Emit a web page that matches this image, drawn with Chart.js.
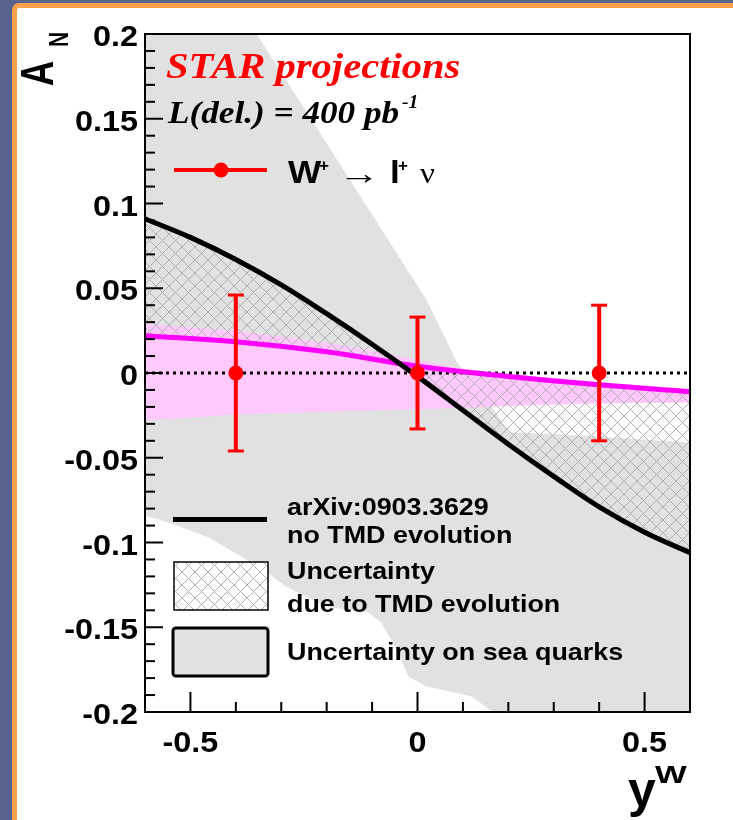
<!DOCTYPE html>
<html>
<head>
<meta charset="utf-8">
<script src="https://cdn.jsdelivr.net/npm/chart.js@4.4.0/dist/chart.umd.min.js"></script>
<style>
  html, body { margin: 0; padding: 0; }
  body { width: 733px; height: 820px; overflow: hidden; background: #57628e; position: relative; }
  #panel {
    position: absolute; left: 12px; top: 3px; width: 760px; height: 860px;
    background: #fff; border-left: 5px solid #f8a14b; border-top: 5px solid #f8a14b;
    border-top-left-radius: 7px;
  }
  #asym { position: absolute; left: 0; top: 0; }
</style>
</head>
<body>
<div id="panel"></div>
<canvas id="asym" width="733" height="820"></canvas>
<script>
// STAR projected W+ single-spin asymmetry, 400 pb^-1
const ptX = [-0.4, 0.0, 0.4];
const ptY = [0, 0, 0];
const ptErr = [0.046, 0.033, 0.040];

// arXiv:0903.3629, no TMD evolution
const blkX = [-0.6, -0.5, -0.4, -0.3, -0.2, -0.1, 0.0, 0.1, 0.2, 0.3, 0.4, 0.5, 0.6];
const blkY = [0.091, 0.080, 0.067, 0.052, 0.035, 0.017, -0.002, -0.022, -0.042, -0.061, -0.079, -0.094, -0.106];

// with TMD evolution
const magX = [-0.6, -0.4, -0.2, 0.0, 0.2, 0.4, 0.6];
const magY = [0.022, 0.0185, 0.0125, 0.004, -0.002, -0.007, -0.011];

// sea-quark spread around the evolved curve
const pinkX = [-0.6, -0.4, -0.2, -0.08, 0.1, 0.2, 0.4, 0.6];
const pinkTop = [0.029, 0.025, 0.018, 0.012, 0.0025, -0.0005, -0.0055, -0.0095];
const pinkBot = [-0.028, -0.0245, -0.0228, -0.022, -0.0205, -0.0195, -0.018, -0.0175];

// sea-quark band of the unevolved curve
const seaUpX = [-0.6, -0.354, 0.02, 0.086, 0.165, 0.2, 0.3, 0.6];
const seaUpY = [0.30, 0.2, 0.043, 0.0067, -0.02, -0.035, -0.036, -0.041];
const seaLoX = [-0.6, -0.54, -0.46, -0.39, -0.33, -0.29, -0.2, -0.11, -0.08, -0.05, -0.02, 0.02, 0.09, 0.12, 0.17, 0.6];
const seaLoY = [-0.084, -0.089, -0.097, -0.108, -0.118, -0.126, -0.138, -0.141, -0.147, -0.161, -0.179, -0.185, -0.189, -0.191, -0.201, -0.26];

const zeroX = [-0.6, 0.6];
const zeroY = [0, 0];

const xTicks = [-0.5, 0, 0.5];
const xLabels = ['-0.5', '0', '0.5'];
const yTicks = [-0.2, -0.15, -0.1, -0.05, 0, 0.05, 0.1, 0.15, 0.2];
const yLabels = ['-0.2', '-0.15', '-0.1', '-0.05', '0', '0.05', '0.1', '0.15', '0.2'];

const xy = (xs, ys) => xs.map((x, i) => ({ x: x, y: ys[i] }));
const none = 'rgba(0,0,0,0)';

function makeHatch() {
  const c = document.createElement('canvas');
  c.width = 13; c.height = 13;
  const g = c.getContext('2d');
  g.strokeStyle = '#b0b0b0';
  g.lineWidth = 1;
  g.beginPath();
  g.moveTo(0, 0); g.lineTo(13, 13);
  g.moveTo(13, 0); g.lineTo(0, 13);
  g.stroke();
  return g.createPattern(c, 'repeat');
}
const hatch = makeHatch();

const SANS = "'Liberation Sans', Arial, Helvetica, sans-serif";
const SERIF = "'Liberation Serif', 'Times New Roman', serif";

function txt(ctx, s, x, y, font, color, sx, align) {
  ctx.save();
  ctx.translate(x, y);
  ctx.scale(sx || 1, 1);
  ctx.font = font;
  ctx.fillStyle = color || '#000';
  ctx.textAlign = align || 'left';
  ctx.textBaseline = 'alphabetic';
  ctx.fillText(s, 0, 0);
  ctx.restore();
}

function seg(ctx, x1, y1, x2, y2) {
  ctx.beginPath(); ctx.moveTo(x1, y1); ctx.lineTo(x2, y2); ctx.stroke();
}

const decor = {
  id: 'decor',
  beforeDatasetDraw(chart, args) {
    if (args.index !== 0) return;
    const ctx = chart.ctx, xs = chart.scales.x, ys = chart.scales.y;
    ctx.save();
    ctx.strokeStyle = '#ff0000';
    ptX.forEach((x, i) => {
      const px = xs.getPixelForValue(x);
      const top = ys.getPixelForValue(ptY[i] + ptErr[i]);
      const bot = ys.getPixelForValue(ptY[i] - ptErr[i]);
      ctx.lineWidth = 4;
      seg(ctx, px, top, px, bot);
      ctx.lineWidth = 3;
      seg(ctx, px - 8, top, px + 8, top);
      seg(ctx, px - 8, bot, px + 8, bot);
    });
    ctx.restore();
  },
  afterDraw(chart) {
    const ctx = chart.ctx, a = chart.chartArea;
    const xs = chart.scales.x, ys = chart.scales.y;
    ctx.save();

    // frame
    ctx.strokeStyle = '#000';
    ctx.lineWidth = 2;
    ctx.strokeRect(a.left, a.top, a.right - a.left, a.bottom - a.top);

    // inward ticks
    ctx.lineWidth = 2;
    for (let k = -20; k <= 20; k++) {
      const py = ys.getPixelForValue(k / 100);
      seg(ctx, a.left, py, a.left + (k % 5 === 0 ? 18 : 10), py);
    }
    for (let k = -6; k <= 6; k++) {
      const px = xs.getPixelForValue(k / 10);
      seg(ctx, px, a.bottom, px, a.bottom - (k % 5 === 0 ? 20 : 10));
    }

    // tick labels
    const tf = 'bold 30px ' + SANS;
    yTicks.forEach((v, i) => txt(ctx, yLabels[i], a.left - 7, ys.getPixelForValue(v) + 12, tf, '#000', 1.08, 'right'));
    xTicks.forEach((v, i) => txt(ctx, xLabels[i], xs.getPixelForValue(v), a.bottom + 40, tf, '#000', 1.08, 'center'));

    // axis titles
    ctx.save();
    ctx.translate(53, 86);
    ctx.rotate(-Math.PI / 2);
    ctx.scale(1, 1.3);
    ctx.font = 'bold 35px ' + SANS;
    ctx.fillStyle = '#000';
    ctx.fillText('A', 0, 0);
    ctx.font = 'bold 21px ' + SANS;
    ctx.fillText('N', 39, 11.5);
    ctx.restore();
    txt(ctx, 'y', 628, 807, 'bold 50px ' + SANS, '#000', 1);
    txt(ctx, 'W', 655, 783, 'bold 24px ' + SANS, '#000', 1.4);

    // header
    txt(ctx, 'STAR projections', 166, 78, 'bold italic 35px ' + SERIF, '#ff0000', 1.16);
    txt(ctx, 'L(del.) = 400 pb', 168, 123, 'bold italic 32px ' + SERIF, '#000', 1.1);
    txt(ctx, '-1', 402, 108, 'bold italic 18px ' + SERIF, '#000', 1.1);

    // data legend
    ctx.strokeStyle = '#ff0000';
    ctx.lineWidth = 4;
    seg(ctx, 174, 170, 267, 170);
    ctx.fillStyle = '#ff0000';
    ctx.beginPath(); ctx.arc(221, 170, 7.5, 0, Math.PI * 2); ctx.fill();
    txt(ctx, 'W', 288, 183, 'bold 32px ' + SANS, '#000', 1.1);
    txt(ctx, '+', 319, 171, 'bold 17px ' + SANS, '#000', 1);
    txt(ctx, '\u2192', 338, 184, '32px ' + SANS, '#000', 1.3);
    txt(ctx, 'l', 390, 183, 'bold 32px ' + SANS, '#000', 1.1);
    txt(ctx, '+', 398, 171, 'bold 17px ' + SANS, '#000', 1);
    txt(ctx, '\u03bd', 420, 183, '30px ' + SERIF, '#000', 1.1);

    // model legend
    const lf = 'bold 24px ' + SANS;
    ctx.strokeStyle = '#000';
    ctx.lineWidth = 5;
    seg(ctx, 173, 519.5, 267, 519.5);
    txt(ctx, 'arXiv:0903.3629', 287, 515, lf, '#000', 1.12);
    txt(ctx, 'no TMD evolution', 287, 543, lf, '#000', 1.12);

    ctx.fillStyle = '#fff';
    ctx.fillRect(174, 562, 94, 48);
    ctx.fillStyle = hatch;
    ctx.fillRect(174, 562, 94, 48);
    ctx.lineWidth = 1.5;
    ctx.strokeRect(174, 562, 94, 48);
    txt(ctx, 'Uncertainty', 287, 579, lf, '#000', 1.12);
    txt(ctx, 'due to TMD evolution', 287, 612, lf, '#000', 1.12);

    ctx.fillStyle = '#e1e1e1';
    ctx.lineWidth = 3;
    ctx.beginPath();
    ctx.roundRect(173, 628, 95, 48, 3);
    ctx.fill();
    ctx.stroke();
    txt(ctx, 'Uncertainty on sea quarks', 287, 660, lf, '#000', 1.12);

    ctx.restore();
  }
};

const line = (data, extra) => Object.assign({
  data: data, borderColor: none, borderWidth: 1, pointRadius: 0, fill: false
}, extra);

new Chart(document.getElementById('asym'), {
  type: 'line',
  data: {
    datasets: [
      line(xy(ptX, ptY), { label: 'W+ -> l+ nu', showLine: false, pointRadius: 7.5,
        pointBackgroundColor: '#ff0000', pointBorderWidth: 0 }),
      line(xy(blkX, blkY), { label: 'no TMD evolution', borderColor: '#000', borderWidth: 5,
        tension: 0.4 }),
      line(xy(magX, magY), { label: 'TMD evolution', borderColor: '#ff00ff', borderWidth: 5,
        tension: 0.4 }),
      line(xy(zeroX, zeroY), { label: 'zero', borderColor: '#000', borderWidth: 3,
        borderDash: [3, 4], borderCapStyle: 'butt' }),
      line(xy(blkX, blkY), { label: 'TMD band', tension: 0.4,
        fill: '+1', backgroundColor: hatch }),
      line(xy(magX, magY), { label: 'TMD band edge', tension: 0.4 }),
      line(xy(pinkX, pinkTop), { label: 'evolved sea band', fill: '+1', backgroundColor: '#ffc9fd' }),
      line(xy(pinkX, pinkBot), { label: 'evolved sea band edge' }),
      line(xy(seaUpX, seaUpY), { label: 'sea band', fill: '+1', backgroundColor: '#e1e1e1' }),
      line(xy(seaLoX, seaLoY), { label: 'sea band edge' })
    ]
  },
  options: {
    responsive: false,
    animation: false,
    layout: { padding: { top: 34, right: 43, bottom: 0, left: 0 } },
    scales: {
      x: {
        type: 'linear', min: -0.6, max: 0.6,
        grid: { display: false }, border: { display: false }, ticks: { display: false },
        afterBuildTicks: s => { s.ticks = xTicks.map(v => ({ value: v })); },
        afterFit: s => { s.height = 108; }
      },
      y: {
        type: 'linear', min: -0.2, max: 0.2,
        grid: { display: false }, border: { display: false }, ticks: { display: false },
        afterBuildTicks: s => { s.ticks = yTicks.map(v => ({ value: v })); },
        afterFit: s => { s.width = 145; }
      }
    },
    plugins: { legend: { display: false }, tooltip: { enabled: false } }
  },
  plugins: [decor]
});
</script>
</body>
</html>
